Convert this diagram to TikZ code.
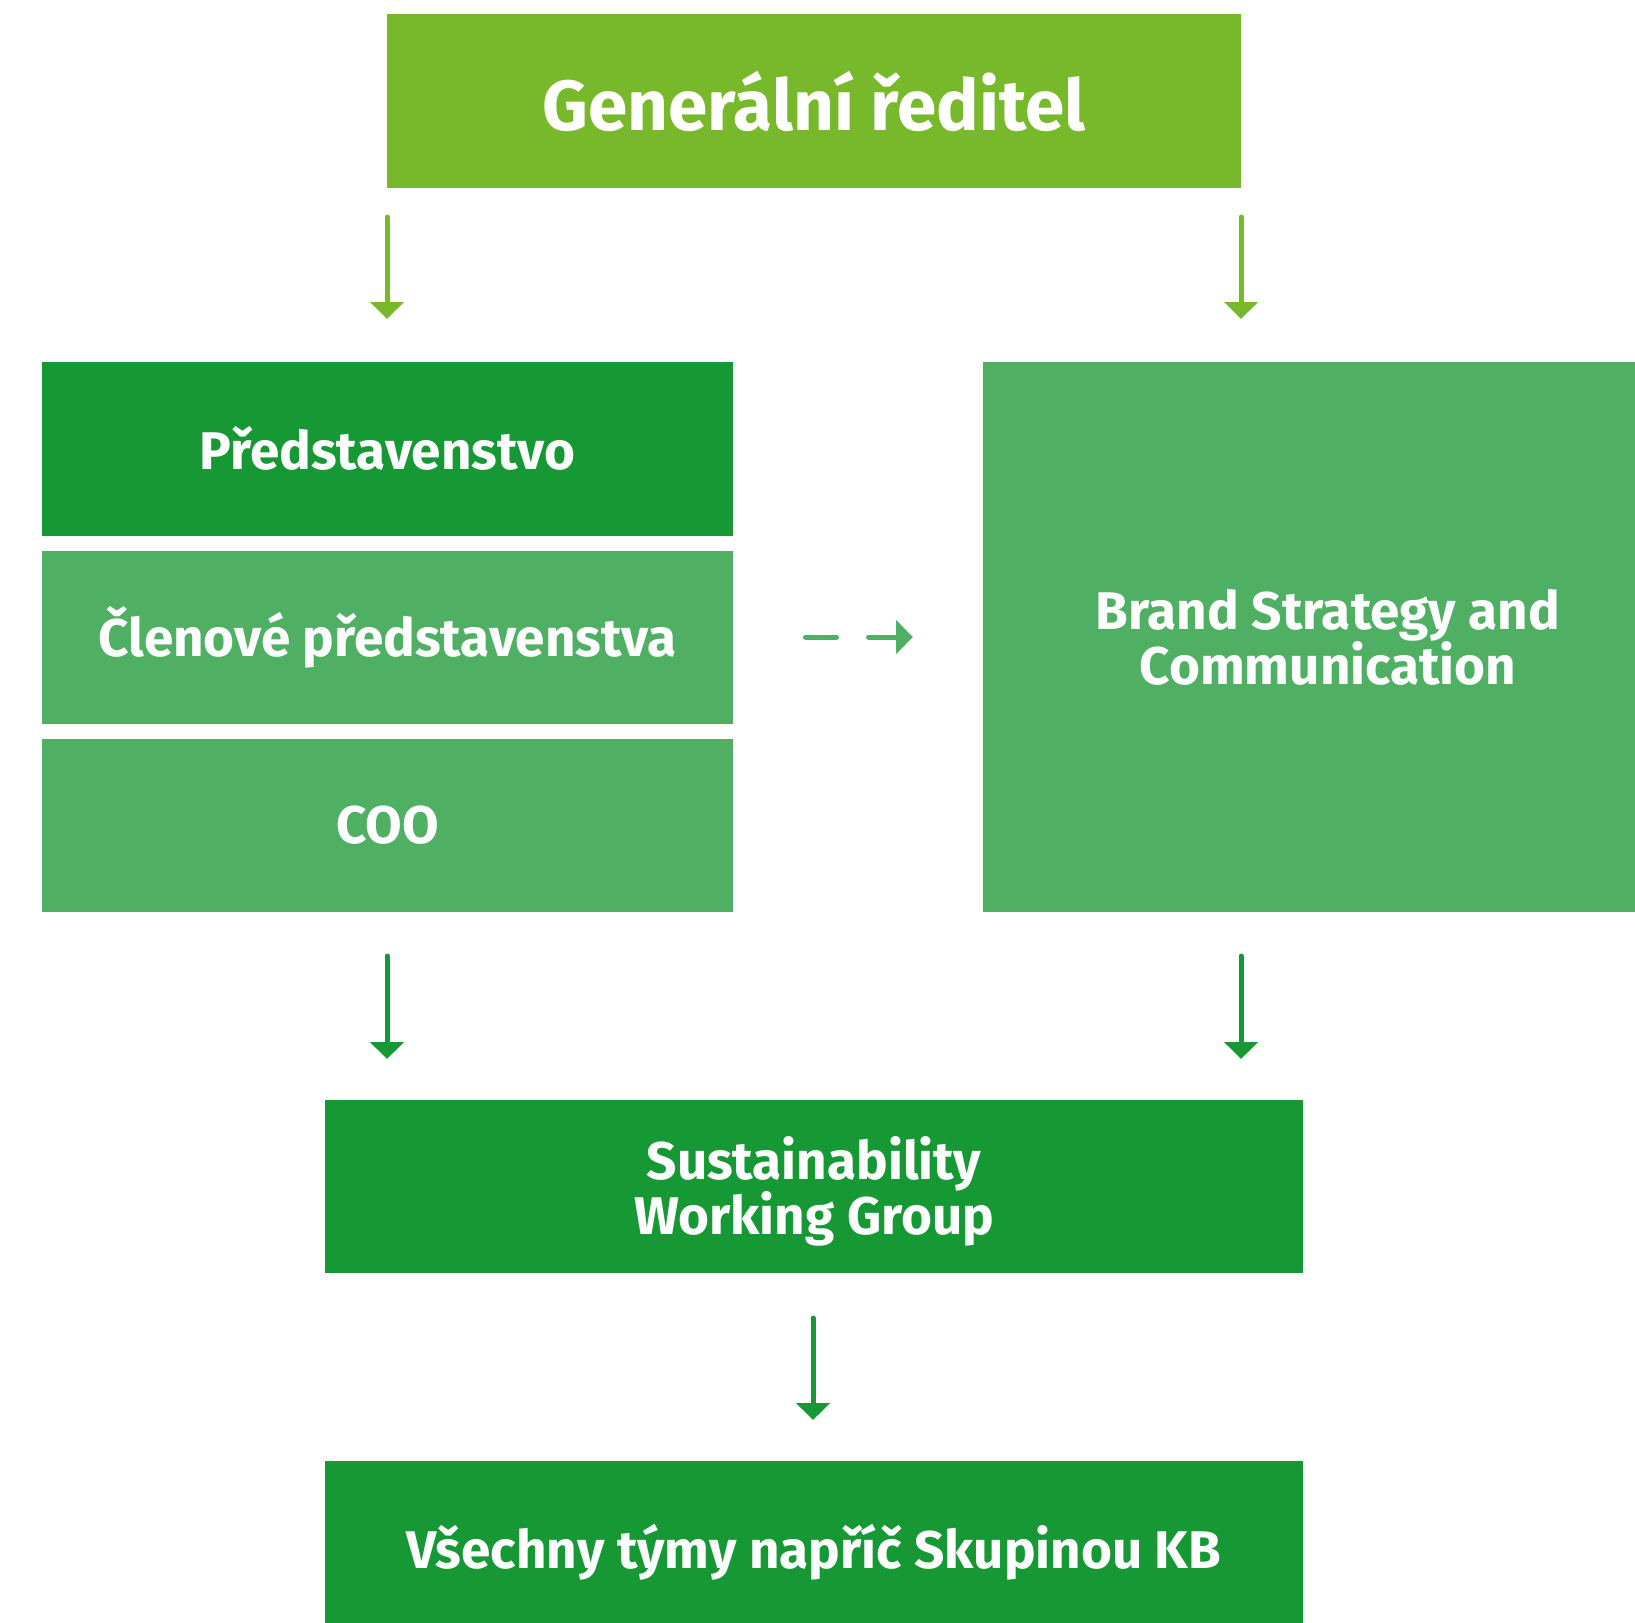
\documentclass[tikz,border=0pt]{standalone}
\usepackage{fontspec}
\setmainfont{Fira Sans}
\usetikzlibrary{arrows.meta}
\definecolor{lgreen}{HTML}{78B92B}
\definecolor{dgreen}{HTML}{169834}
\definecolor{mgreen}{HTML}{4FB064}
\tikzset{
  box/.style={fill=#1, draw=none, text=white, font=\bfseries\fontsize{53}{55}\selectfont, align=center, inner sep=0pt},
  arr/.style={draw=#1, line width=5pt, line cap=round, -{Triangle[width=33pt,length=17pt]}},
}
\begin{document}
\begin{tikzpicture}[x=1pt,y=-1pt]
\useasboundingbox (0,0) rectangle (1635,1622);
% boxes
\node[box=lgreen, minimum width=854pt, minimum height=174pt, font=\bfseries\fontsize{71}{75}\selectfont] (ceo) at (814,101) {Generální ředitel};
\node[box=dgreen, minimum width=691pt, minimum height=174pt] (pred) at (387.5,448.5) {Představenstvo};
\node[box=mgreen, minimum width=691pt, minimum height=173pt] (clen) at (387.5,637) {Členové představenstva};
\node[box=mgreen, minimum width=691pt, minimum height=173pt] (coo) at (387.5,825.5) {COO};
\node[box=mgreen, minimum width=690pt, minimum height=550pt] (brand) at (1328,637) {Brand Strategy and\\Communication};
\node[box=dgreen, minimum width=978pt, minimum height=173pt] (swg) at (814,1186.5) {};
\node[text=white, font=\bfseries\fontsize{53}{55}\selectfont, align=center, inner sep=0pt] (swgt) at (814,1191) {Sustainability\\Working Group};
\node[box=dgreen, minimum width=978pt, minimum height=183pt] (all) at (814,1552.5) {Všechny týmy napříč Skupinou KB};
% arrow coordinates
\coordinate (a1s) at (387,217); \coordinate (a1e) at (387,319);
\coordinate (a2s) at (1241,217); \coordinate (a2e) at (1241,319);
\coordinate (a3s) at (387,956); \coordinate (a3e) at (387,1059);
\coordinate (a4s) at (1241,956); \coordinate (a4e) at (1241,1059);
\coordinate (a5s) at (813,1318); \coordinate (a5e) at (813,1420);
\coordinate (ds) at (805.5,637); \coordinate (de) at (913,637);
\draw[arr=lgreen] (a1s) -- (a1e);
\draw[arr=lgreen] (a2s) -- (a2e);
\draw[arr=dgreen] (a3s) -- (a3e);
\draw[arr=dgreen] (a4s) -- (a4e);
\draw[arr=dgreen] (a5s) -- (a5e);
\draw[arr=mgreen, dash pattern=on 31pt off 32pt] (ds) -- (de);
\end{tikzpicture}
\end{document}
